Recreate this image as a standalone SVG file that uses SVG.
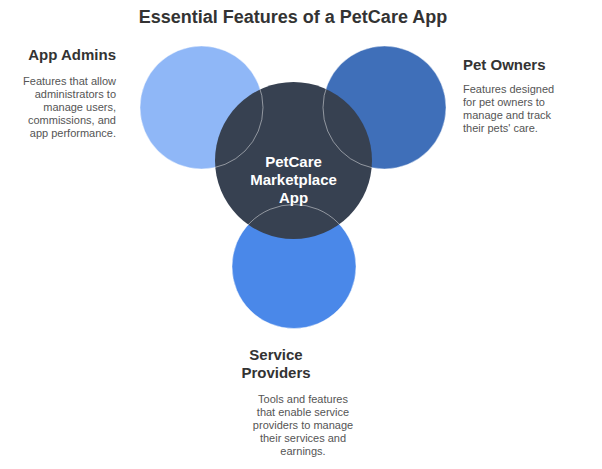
<svg xmlns="http://www.w3.org/2000/svg" width="602" height="469" viewBox="0 0 602 469">
<style>
text{font-family:"Liberation Sans",Arial,sans-serif}
.title{font-size:18px;font-weight:bold;fill:#333333}
.head{font-size:15px;font-weight:bold;fill:#333333}
.desc{font-size:11px;fill:#555555}
.ctr{font-size:15px;font-weight:bold;fill:#ffffff}
.ring{fill:none;stroke:#ffffff;stroke-opacity:0.45;stroke-width:1}
</style>
<rect width="602" height="469" fill="#ffffff"/>
<text class="title" x="293" y="23" text-anchor="middle">Essential Features of a PetCare App</text>
<g id="admins">
<circle cx="201.5" cy="107.5" r="61.5" fill="#8fb7f7"/>
<text class="head" x="116" y="60" text-anchor="end">App Admins</text>
<text class="desc" text-anchor="end"><tspan x="116" y="85">Features that allow</tspan><tspan x="116" y="98">administrators to</tspan><tspan x="116" y="111">manage users,</tspan><tspan x="116" y="124">commissions, and</tspan><tspan x="116" y="137">app performance.</tspan></text>
</g>
<g id="owners">
<circle cx="384.5" cy="107.5" r="61.5" fill="#3f6fb9"/>
<text class="head" x="463" y="70">Pet Owners</text>
<text class="desc"><tspan x="463" y="93">Features designed</tspan><tspan x="463" y="106">for pet owners to</tspan><tspan x="463" y="119">manage and track</tspan><tspan x="463" y="132">their pets' care.</tspan></text>
</g>
<g id="providers">
<circle cx="294" cy="266.5" r="62" fill="#4a88e9"/>
<text class="head" text-anchor="middle"><tspan x="276" y="360">Service</tspan><tspan x="276" y="378">Providers</tspan></text>
<text class="desc" text-anchor="middle"><tspan x="303" y="403">Tools and features</tspan><tspan x="303" y="416">that enable service</tspan><tspan x="303" y="429">providers to manage</tspan><tspan x="303" y="442">their services and</tspan><tspan x="303" y="455">earnings.</tspan></text>
</g>
<g id="center">
<circle cx="293.5" cy="160.5" r="78.5" fill="#374151"/>
<text class="ctr" text-anchor="middle"><tspan x="293.5" y="167">PetCare</tspan><tspan x="293.5" y="185">Marketplace</tspan><tspan x="293.5" y="203">App</tspan></text>
</g>
<g id="connectors">
<circle class="ring" cx="201.5" cy="107.5" r="61.5"/>
<circle class="ring" cx="384.5" cy="107.5" r="61.5" stroke-opacity="0.3"/>
<circle class="ring" cx="294" cy="266.5" r="62" stroke="#6a98e8" stroke-opacity="0.8"/>
</g>
</svg>
